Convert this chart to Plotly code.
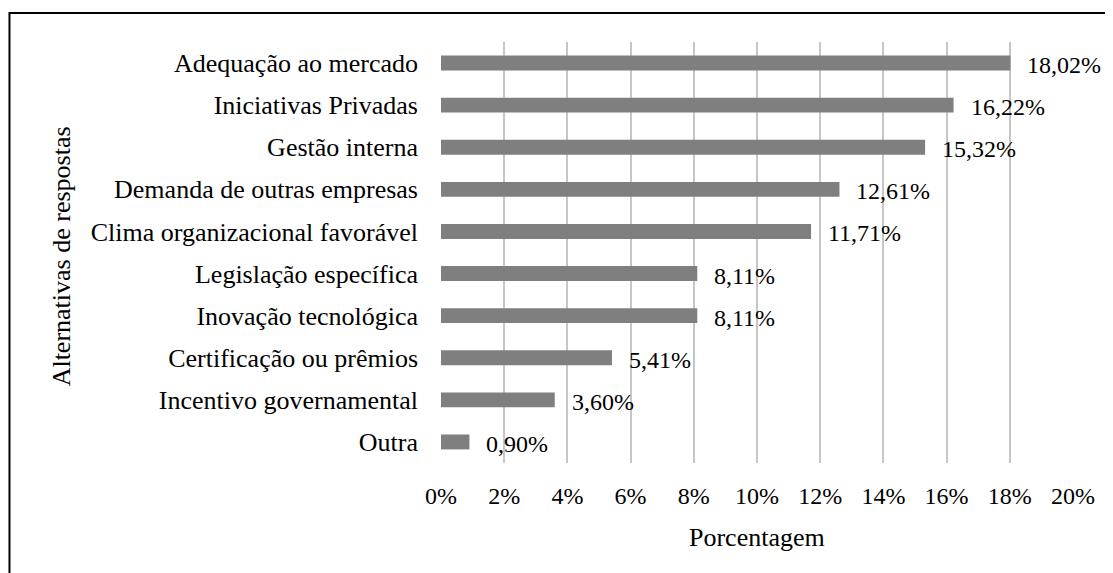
import plotly.graph_objects as go

categories = [
    "Adequação ao mercado",
    "Iniciativas Privadas",
    "Gestão interna",
    "Demanda de outras empresas",
    "Clima organizacional favorável",
    "Legislação específica",
    "Inovação tecnológica",
    "Certificação ou prêmios",
    "Incentivo governamental",
    "Outra",
]
values = [18.02, 16.22, 15.32, 12.61, 11.71, 8.11, 8.11, 5.41, 3.60, 0.90]
x_ticks = [0, 2, 4, 6, 8, 10, 12, 14, 16, 18, 20]
x_tick_labels = [f"{t}%" for t in x_ticks]
x_title = "Porcentagem"
y_title = "Alternativas de respostas"

FONT = "Liberation Serif"

fig = go.Figure()
fig.add_trace(go.Bar(
    x=values,
    y=categories,
    orientation="h",
    marker=dict(color="#7f7f7f", line=dict(width=0)),
    hoverinfo="skip",
))

annotations = []
for c, v in zip(categories, values):
    annotations.append(dict(
        x=v, y=c, xref="x", yref="y",
        text=f"{v:.2f}".replace(".", ",") + "%",
        showarrow=False, xanchor="left", yanchor="middle",
        xshift=15, yshift=-2,
        font=dict(family=FONT, size=24, color="#000000"),
    ))

# axis titles
annotations.append(dict(
    x=0.5, y=-0.178, xref="paper", yref="paper", text=x_title,
    showarrow=False, xanchor="center", yanchor="middle",
    font=dict(family=FONT, size=26, color="#000000"),
))
annotations.append(dict(
    x=-0.6005, y=0.492, xref="paper", yref="paper", text=y_title,
    showarrow=False, xanchor="center", yanchor="middle", textangle=-90,
    font=dict(family=FONT, size=26, color="#000000"),
))

fig.update_layout(
    width=1105, height=565,
    margin=dict(l=433, r=40, t=34, b=110, autoexpand=False),
    paper_bgcolor="white", plot_bgcolor="white",
    showlegend=False,
    bargap=0.645,
    annotations=annotations,
    shapes=[dict(
        type="rect", xref="paper", yref="paper",
        x0=-0.6828, x1=1.08, y0=-0.29, y1=1.0689,
        line=dict(color="#000000", width=2), fillcolor="rgba(0,0,0,0)",
        layer="below",
    )],
    font=dict(family=FONT, color="#000000"),
)
fig.update_xaxes(
    range=[0, 20], tickvals=x_ticks, ticktext=x_tick_labels,
    showgrid=True, gridcolor="#c6c6c6", gridwidth=1.5,
    zeroline=False, showline=False, ticks="",
    ticklabelstandoff=16,
    tickfont=dict(family=FONT, size=24, color="#000000"),
    fixedrange=True,
)
fig.update_yaxes(
    categoryorder="array", categoryarray=categories[::-1],
    showgrid=False, zeroline=False, showline=False, ticks="",
    ticklabelstandoff=22,
    tickfont=dict(family=FONT, size=26, color="#000000"),
    fixedrange=True,
)

fig.write_html("out.html", config={"displayModeBar": False})
